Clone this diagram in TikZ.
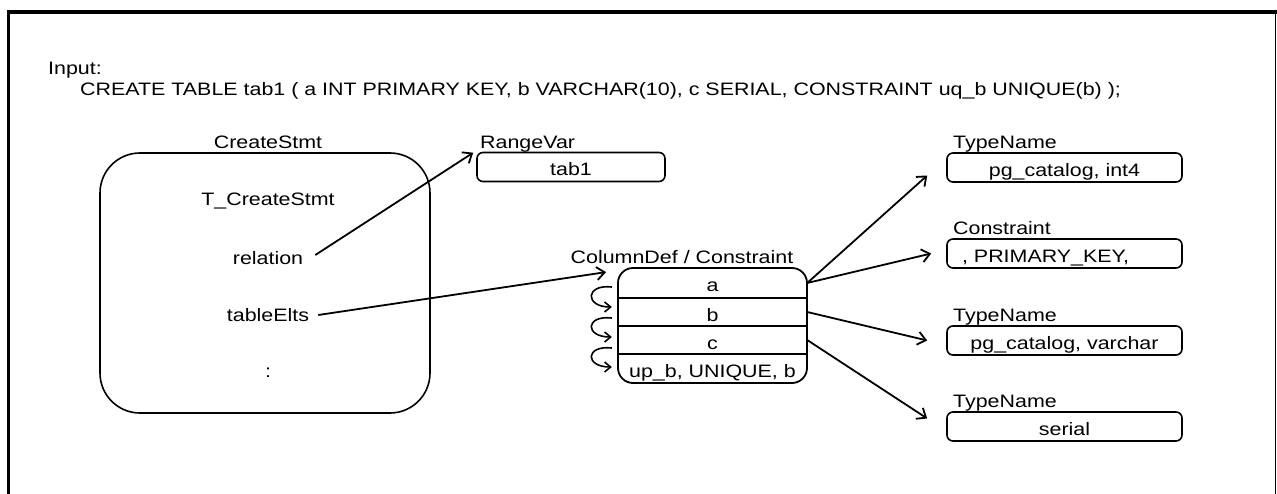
\documentclass[tikz,border=0pt]{standalone}
\usepackage{fontspec}
\setmainfont[FakeStretch=1.19]{Liberation Sans}
\usetikzlibrary{calc,arrows.meta}
\begin{document}
\begin{tikzpicture}[x=1pt,y=-1pt,
  font=\fontsize{18}{22}\selectfont,
  lbl/.style={anchor=base west,inner sep=0pt},
  clbl/.style={anchor=base,inner sep=0pt},
  ctext/.style={anchor=center,inner sep=0pt,text height=13pt,text depth=0pt},
  cell/.style={inner sep=0pt,text height=18pt,text depth=0pt},
  field/.style={cell,draw,line width=1.6pt,rounded corners=6pt,minimum width=235pt,minimum height=29pt},
  conn/.style={line width=1.8pt,-{Straight Barb[length=8pt,width=13pt,line width=1.8pt]}},
  loopconn/.style={line width=1.6pt,-{Straight Barb[length=6pt,width=10pt,line width=1.6pt]}},
  sep/.style={line width=1.6pt}]
\useasboundingbox (0,0) rectangle (1277,494);

% frame
\draw[line width=3.5pt] (8.5,494) -- (8.5,12) -- (1277,12);
\draw[line width=1pt] (1275.5,12) -- (1275.5,494);

% input statement
\node[lbl] (inlbl) at (48,75) {Input:};
\node[lbl] (sql) at (80,96) {CREATE TABLE tab1 ( a INT PRIMARY KEY, b VARCHAR(10), c SERIAL, CONSTRAINT uq\_b UNIQUE(b) );};

% CreateStmt
\node[clbl] (cslbl) at (268,149) {CreateStmt};
\node[draw,line width=1.6pt,rounded corners=40pt,minimum width=330pt,minimum height=260pt,inner sep=0pt] (cs) at (265,283) {};
\node[ctext] (tcs) at (268,199) {T\_CreateStmt};
\node[ctext] (rel) at (268,258) {relation};
\node[ctext] (elts) at (268,315) {tableElts};
\node[ctext] (dots) at (268,371) {:};

% RangeVar
\node[lbl] (rvlbl) at (480,149) {RangeVar};
\node[field,minimum width=188pt] (rv) at (571,167) {tab1};

% ColumnDef / Constraint list
\node[clbl] (cdlbl) at (682,264) {ColumnDef / Constraint};
\node[draw,line width=1.8pt,rounded corners=15pt,minimum width=189pt,minimum height=115pt,inner sep=0pt] (cols) at (712.5,325.5) {};
\node[cell,minimum width=189pt,minimum height=30pt] (ra) at (712.5,283) {a};
\node[cell,minimum width=189pt,minimum height=28pt] (rb) at (712.5,312) {b};
\node[cell,minimum width=189pt,minimum height=28pt] (rc) at (712.5,340) {c};
\node[cell,minimum width=189pt,minimum height=29pt] (ru) at (712.5,368.5) {up\_b, UNIQUE, b};
\draw[sep] (ra.south west) -- (ra.south east);
\draw[sep] (rb.south west) -- (rb.south east);
\draw[sep] (rc.south west) -- (rc.south east);

% list links
\draw[loopconn] ($(ra.west)+(-6,4)$) .. controls +(-27,-3) and +(-27,0) .. ($(rb.west)+(-6,-5)$);
\draw[loopconn] ($(rb.west)+(-6,6)$) .. controls +(-27,-3) and +(-27,0) .. ($(rc.west)+(-6,-3)$);
\draw[loopconn] ($(rc.west)+(-6,8)$) .. controls +(-27,-3) and +(-27,0) .. ($(ru.west)+(-6,-1.5)$);

% type names and constraints
\node[lbl] (tl1) at (953,149) {TypeName};
\node[field] (t1) at (1064.5,167.5) {pg\_catalog, int4};
\node[lbl] (tl2) at (953,235) {Constraint};
\node[field,text width=205pt,align=left] (t2) at (1064.5,253.5) {, PRIMARY\_KEY,};
\node[lbl] (tl3) at (953,321) {TypeName};
\node[field] (t3) at (1064.5,340.5) {pg\_catalog, varchar};
\node[lbl] (tl4) at (953,407) {TypeName};
\node[field] (t4) at (1064.5,426.5) {serial};

% pointers
\draw[conn] ($(rel.east)+(12,-3)$) -- ($(rv.north west)+(-3,1)$);
\draw[conn] ($(elts.east)+(9,0)$) -- ($(cols.north west)+(-11,5)$);
\draw[conn] (ra.east) -- ($(t1.west)+(-19,8)$);
\draw[conn] (ra.east) -- ($(t2.west)+(-15,0)$);
\draw[conn] (rb.east) -- ($(t3.west)+(-19,0)$);
\draw[conn] (rc.east) -- ($(t4.west)+(-19,-8)$);
\end{tikzpicture}
\end{document}
